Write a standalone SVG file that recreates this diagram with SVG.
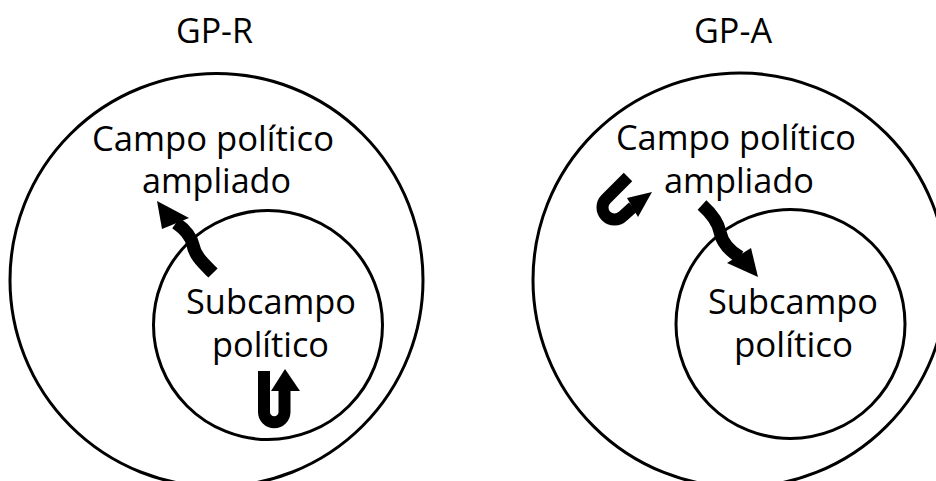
<svg xmlns="http://www.w3.org/2000/svg" width="936" height="481" viewBox="0 0 936 481">
<style>
.c{fill:none;stroke:#000;stroke-width:3}
.t{font-family:"Open Sans","Noto Sans","Liberation Sans",sans-serif;font-size:34px;fill:#000;text-anchor:middle}
.h{font-size:34px}
.s{fill:none;stroke:#000;stroke-width:12;stroke-linecap:butt}
.w{stroke-width:13}
.a{fill:#000;stroke:none}
</style>
<rect width="936" height="481" fill="#fff"/>
<g id="title-gpr"><text class="t h" x="214.5" y="43" textLength="77" lengthAdjust="spacingAndGlyphs">GP-R</text></g>
<g id="title-gpa"><text class="t h" x="733" y="43" textLength="78" lengthAdjust="spacingAndGlyphs">GP-A</text></g>
<g id="outer-left">
<circle class="c" cx="216.5" cy="280" r="206.5"/>
<text class="t" x="213" y="151" textLength="242" lengthAdjust="spacingAndGlyphs">Campo político</text>
<text class="t" x="216.5" y="193" textLength="149" lengthAdjust="spacingAndGlyphs">ampliado</text>
</g>
<g id="inner-left">
<circle class="c" cx="268" cy="325" r="114.5"/>
<text class="t" x="271" y="314" textLength="170" lengthAdjust="spacingAndGlyphs">Subcampo</text>
<text class="t" x="270.5" y="357" textLength="117" lengthAdjust="spacingAndGlyphs">político</text>
</g>
<g id="outer-right">
<circle class="c" cx="740" cy="280" r="207"/>
<text class="t" x="736" y="150" textLength="240" lengthAdjust="spacingAndGlyphs">Campo político</text>
<text class="t" x="739" y="193" textLength="150" lengthAdjust="spacingAndGlyphs">ampliado</text>
</g>
<g id="inner-right">
<circle class="c" cx="790.5" cy="324" r="114.5"/>
<text class="t" x="793" y="314" textLength="170" lengthAdjust="spacingAndGlyphs">Subcampo</text>
<text class="t" x="793.5" y="357" textLength="119" lengthAdjust="spacingAndGlyphs">político</text>
</g>
<g id="connectors">
<g id="arrow-left-out">
<path class="s w" d="M213,273 C203,263 195,256 193,245 C191,236 186,230 176,223"/>
<polygon class="a" points="157,201 162,229 189,218"/>
</g>
<g id="arrow-left-u">
<path class="s" d="M264,371 L264,412 A10.25,10.25 0 0 0 284.5,412 L284.5,390"/>
<polygon class="a" points="285,369 271,391 300,391"/>
</g>
<g id="arrow-right-u">
<path class="s" d="M628,177 L606,199 A12,12 0 0 0 623,216 L633,207"/>
<polygon class="a" points="652,192 627,198 638,217"/>
</g>
<g id="arrow-right-in">
<path class="s w" d="M702,205 C712,214 718,222 720,232 C722,242 728,250 740,257"/>
<polygon class="a" points="758,277 727,263 751,248"/>
</g>
</g>
</svg>
